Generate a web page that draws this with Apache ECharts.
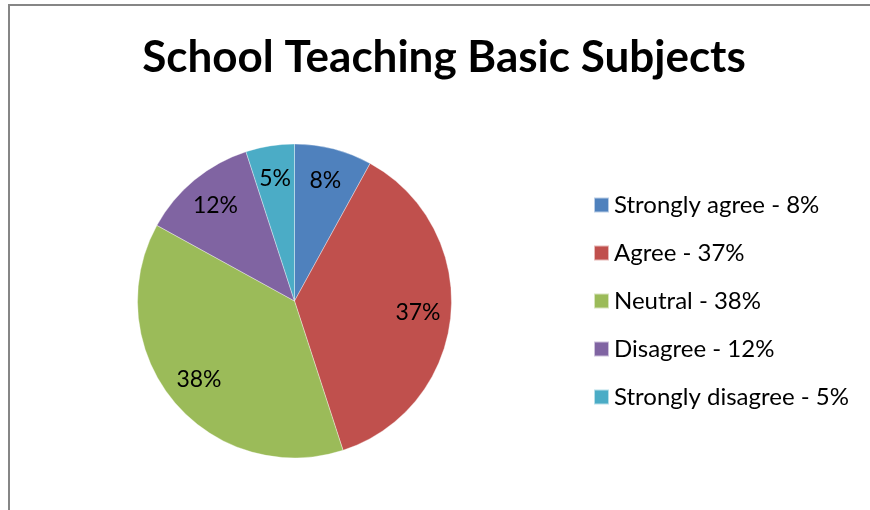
<!DOCTYPE html>
<html>
<head>
<meta charset="utf-8">
<script src="https://cdn.jsdelivr.net/npm/echarts@6/dist/echarts.min.js"></script>
<style>
html,body{margin:0;padding:0;background:#fff;}
#chart{width:870px;height:510px;}
</style>
</head>
<body>
<div id="chart"></div>
<script>
const titleText = 'School Teaching Basic Subjects';
const categories = ['Strongly agree', 'Agree', 'Neutral', 'Disagree', 'Strongly disagree'];
const values = [8, 37, 38, 12, 5];
const colors = ['#4F81BD', '#C0504D', '#9BBB59', '#8064A2', '#4BACC6'];

const FONT = 'Lato';
const data = categories.map((c, i) => ({ name: c, value: values[i], itemStyle: { color: colors[i] } }));
const labelOf = {};
categories.forEach((c, i) => { labelOf[c] = c + ' - ' + values[i] + '%'; });

const chart = echarts.init(document.getElementById('chart'), null, { renderer: 'canvas' });
chart.setOption({
  animation: false,
  backgroundColor: '#fff',
  title: {
    text: titleText,
    left: 439,
    top: 31,
    textAlign: 'center',
    textStyle: { fontFamily: FONT, fontWeight: 'bold', fontSize: 44, color: '#000' }
  },
  legend: {
    orient: 'vertical',
    left: 588,
    top: 188,
    itemWidth: 15,
    itemHeight: 15,
    itemGap: 24,
    icon: 'rect',
    data: categories,
    formatter: n => labelOf[n],
    textStyle: { fontFamily: FONT, fontSize: 24, color: '#000' }
  },
  graphic: [{
    type: 'rect',
    shape: { x: 9, y: 5, width: 900, height: 600 },
    style: { fill: 'none', stroke: '#868686', lineWidth: 2 },
    silent: true
  }],
  series: [
    {
      type: 'pie',
      center: [294.5, 301],
      radius: [0, 157],
      startAngle: 90,
      clockwise: true,
      data: data,
      label: { show: false },
      labelLine: { show: false },
      itemStyle: { borderColor: 'rgba(255,255,255,0.6)', borderWidth: 0.6 },
      emphasis: { disabled: true },
      silent: true
    },
    {
      type: 'pie',
      center: [294.5, 301],
      radius: [85, 157],
      startAngle: 90,
      clockwise: true,
      data: data.map(d => ({ name: d.name, value: d.value })),
      itemStyle: { color: 'rgba(0,0,0,0)' },
      label: {
        show: true,
        position: 'inside',
        formatter: p => p.value + '%',
        fontFamily: FONT,
        fontSize: 23,
        color: '#000'
      },
      labelLine: { show: false },
      emphasis: { disabled: true },
      silent: true,
      legendHoverLink: false
    }
  ]
});
</script>
</body>
</html>
